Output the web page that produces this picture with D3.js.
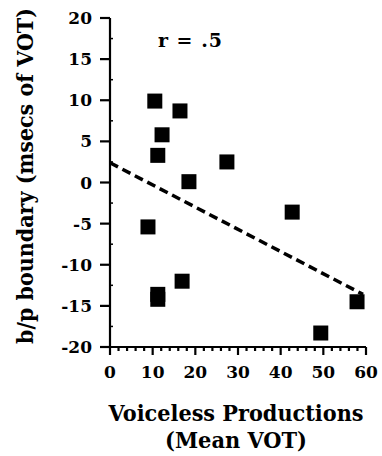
<!DOCTYPE html>
<html>
<head>
<meta charset="utf-8">
<script src="https://cdn.jsdelivr.net/npm/d3@7"></script>
<style>
  body { margin: 0; background: #fff; }
  .lbl, .title { font-family: "DejaVu Serif", serif; font-weight: bold; fill: #000; }
</style>
</head>
<body>
<div id="chart"></div>
<script>
// Mean VOT of voiceless productions vs b/p boundary
const meanVOT  = [10.5, 16.4, 12.2, 11.2, 18.5, 27.4, 8.9, 42.7, 11.2, 11.2, 16.9, 49.4, 57.9];
const boundary = [9.9, 8.7, 5.8, 3.3, 0.1, 2.5, -5.4, -3.6, -13.6, -14.2, -12.0, -18.3, -14.5];
const fitX = [0, 59.3];
const fitY = [2.4, -13.6];
const xTicks = [0, 10, 20, 30, 40, 50, 60];
const yTicks = [-20, -15, -10, -5, 0, 5, 10, 15, 20];

const svg = d3.select("#chart").append("svg")
    .attr("width", 382)
    .attr("height", 456);

const x = d3.scaleLinear().domain([0, 60]).range([110, 366]);
const y = d3.scaleLinear().domain([-20, 20]).range([347, 18]);

// tick labels
svg.append("g").selectAll("text")
  .data(xTicks)
  .enter()
  .append("text")
    .attr("class", "lbl")
    .attr("x", d => x(d))
    .attr("y", y(-20) + 31)
    .attr("text-anchor", "middle")
    .style("font-size", "17px")
    .text(d => d);

svg.append("g").selectAll("text")
  .data(yTicks)
  .enter()
  .append("text")
    .attr("class", "lbl")
    .attr("x", x(0) - 18)
    .attr("y", d => y(d))
    .attr("dy", "0.36em")
    .attr("text-anchor", "end")
    .style("font-size", "17px")
    .text(d => d);

// annotation
svg.append("text")
    .attr("class", "title")
    .attr("x", 158)
    .attr("y", 47)
    .attr("textLength", 64)
    .attr("lengthAdjust", "spacing")
    .style("font-size", "19px")
    .text("r = .5");

// axis titles
svg.append("text")
    .attr("class", "title")
    .attr("transform", "translate(33,176) rotate(-90)")
    .attr("text-anchor", "middle")
    .attr("textLength", 336)
    .attr("lengthAdjust", "spacingAndGlyphs")
    .style("font-size", "22px")
    .text("b/p boundary (msecs of VOT)");

svg.append("text")
    .attr("class", "title")
    .attr("x", 236)
    .attr("y", 421)
    .attr("text-anchor", "middle")
    .attr("textLength", 255)
    .attr("lengthAdjust", "spacingAndGlyphs")
    .style("font-size", "22px")
    .text("Voiceless Productions");

svg.append("text")
    .attr("class", "title")
    .attr("x", 236)
    .attr("y", 448)
    .attr("text-anchor", "middle")
    .attr("textLength", 142)
    .attr("lengthAdjust", "spacingAndGlyphs")
    .style("font-size", "22px")
    .text("(Mean VOT)");

// regression line
const fitLine = d3.line()
    .x(d => x(d[0]))
    .y(d => y(d[1]));
svg.append("path")
    .attr("d", fitLine(d3.zip(fitX, fitY)))
    .attr("fill", "none")
    .attr("stroke", "#000")
    .attr("stroke-width", 3.5)
    .attr("stroke-dasharray", "9,5");

// points
const sz = 15;
svg.selectAll(".pt")
  .data(d3.zip(meanVOT, boundary))
  .enter()
  .append("rect")
    .attr("class", "pt")
    .attr("x", d => x(d[0]) - sz / 2)
    .attr("y", d => y(d[1]) - sz / 2)
    .attr("width", sz)
    .attr("height", sz)
    .attr("fill", "#000");

// axes, drawn last
const axes = svg.append("g")
    .attr("fill", "none")
    .attr("stroke", "#000")
    .attr("stroke-width", 2.2);

axes.append("path")
    .attr("d", `M${x(60)},${y(-20)}H${x(0)}V${y(20)}`);

// x ticks: short every 2, longer every 10
axes.selectAll(".xt")
  .data(d3.range(0, 61, 2))
  .enter()
  .append("path")
    .attr("class", "xt")
    .attr("d", d => `M${x(d)},${y(-20)}v${d % 10 === 0 ? 8 : 4}`);

// y ticks: outside every 5, small inside ones at the halves
axes.selectAll(".yt")
  .data(yTicks)
  .enter()
  .append("path")
    .attr("class", "yt")
    .attr("d", d => `M${x(0) - 10},${y(d)}h10`);
axes.selectAll(".ym")
  .data(d3.range(-17.5, 20, 5))
  .enter()
  .append("path")
    .attr("class", "ym")
    .attr("stroke-width", 1.5)
    .attr("d", d => `M${x(0)},${y(d)}h3`);
</script>
</body>
</html>
